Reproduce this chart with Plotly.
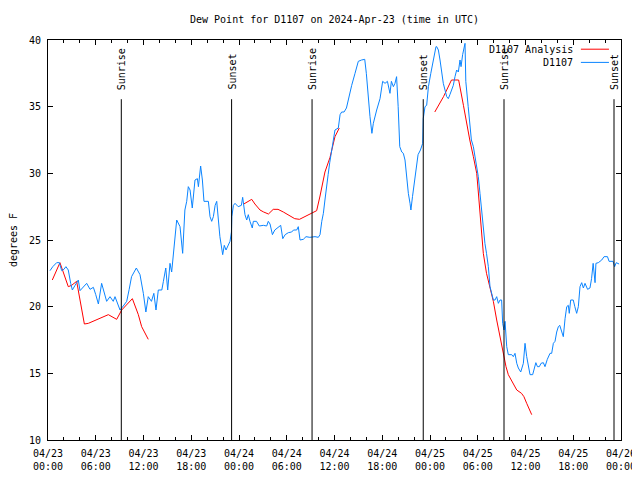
import pandas as pd
import plotly.graph_objects as go

START = pd.Timestamp("2024-04-23 00:00")

# Observed dew point (D1107), hours since 2024-04-23 00:00 UTC
obs_hours = [0.25, 0.6, 1.09, 1.42, 1.72, 2.0, 2.25, 2.55, 2.85, 3.06, 3.4, 3.81, 4.02, 4.45, 4.86, 5.28, 5.7, 6.0,
             6.33, 6.74, 7.16, 7.37, 7.79, 8.2, 8.42, 8.71, 9.05, 9.46, 9.89, 10.2, 10.5, 11.1, 11.56, 11.98, 12.3,
             12.6, 13.0, 13.3, 13.57, 13.86, 14.3, 14.5, 14.8, 15.04, 15.33, 15.54, 15.96, 16.17, 16.59, 16.92, 17.2,
             17.43, 17.63, 17.85, 18.13, 18.47, 18.77, 18.9, 19.18, 19.4, 19.6, 20.15, 20.36, 20.57, 20.78, 21.0,
             21.2, 21.4, 21.6, 21.95, 22.15, 22.37, 22.66, 22.87, 23.05, 23.1, 23.3, 23.5, 23.9, 24.3, 24.46, 24.6,
             24.75, 24.97, 25.17, 25.38, 25.67, 25.8, 26.2, 26.55, 27.06, 27.48, 27.68, 27.9, 28.2, 28.5, 28.94,
             29.24, 29.5, 29.8, 30.2, 30.62, 30.85, 31.25, 31.45, 31.67, 32.08, 32.42, 32.9, 33.55, 33.97, 34.18,
             34.4, 34.6, 34.8, 35.0, 35.2, 35.4, 35.64, 35.85, 36.06, 36.48, 36.7, 36.9, 37.2, 37.5, 37.7, 38.16,
             38.58, 38.99, 39.4, 39.8, 40.0, 40.25, 40.46, 40.7, 40.88, 41.3, 41.72, 42.05, 42.35, 42.65, 42.97,
             43.15, 43.4, 43.6, 43.8, 44.0, 44.2, 44.45, 44.65, 44.86, 45.07, 45.28, 45.49, 45.6, 45.8, 46.1, 46.3,
             46.5, 46.8, 47.08, 47.15, 47.37, 47.58, 47.8, 48.1, 48.4, 48.75, 48.84, 49.05, 49.26, 49.47, 49.67,
             50.1, 50.3, 50.5, 50.93, 51.14, 51.35, 51.56, 51.77, 51.9, 52.1, 52.4, 52.5, 52.8, 53.0, 53.2, 53.45,
             53.66, 53.87, 54.07, 54.28, 54.5, 54.7, 54.9, 55.1, 55.33, 55.54, 55.75, 55.96, 56.17, 56.38, 56.59,
             56.8, 57.0, 57.13, 57.3, 57.43, 57.64, 57.84, 58.27, 58.47, 58.68, 58.9, 59.1, 59.4, 59.73, 59.94,
             60.15, 60.36, 60.57, 60.9, 61.07, 61.3, 61.5, 61.74, 61.95, 62.24, 62.45, 62.74, 63.08, 63.29, 63.5,
             63.71, 63.92, 64.13, 64.3, 64.55, 64.75, 64.97, 65.18, 65.38, 65.5, 65.68, 66.0, 66.2, 66.43, 66.64,
             66.85, 67.06, 67.27, 67.48, 67.8, 68.1, 68.3, 68.5, 68.74, 68.85, 69.15, 69.58, 69.87, 70.3, 70.5,
             71.0, 71.2, 71.4, 71.76]
obs_values = [22.7, 23.0, 23.3, 23.3, 22.7, 22.8, 23.0, 22.75, 21.75, 21.25, 21.6, 22.0, 21.2, 21.5, 21.75, 21.3,
              21.45, 20.9, 20.2, 21.75, 20.9, 20.4, 20.75, 20.4, 20.75, 20.25, 19.75, 20.05, 20.4, 21.3, 22.25, 22.9,
              22.4, 21.0, 19.6, 20.75, 20.4, 21.0, 19.75, 21.25, 21.25, 21.9, 22.9, 21.25, 23.25, 22.6, 25.1, 26.5,
              26.0, 24.0, 27.25, 27.9, 29.0, 28.75, 27.4, 29.5, 29.6, 29.0, 30.55, 29.5, 27.9, 27.9, 26.75, 26.4,
              26.75, 27.6, 27.9, 26.75, 25.25, 23.9, 24.6, 24.25, 24.6, 24.9, 25.6, 26.75, 27.6, 27.75, 27.5, 27.6,
              28.2, 27.6, 26.9, 26.5, 26.9, 26.4, 25.9, 26.4, 26.4, 26.05, 26.1, 26.05, 26.4, 26.2, 25.4, 25.75, 26.0,
              26.1, 25.1, 25.4, 25.55, 25.6, 25.75, 25.75, 26.0, 25.0, 25.05, 25.25, 25.2, 25.25, 25.2, 25.4, 26.4,
              27.0, 28.0, 29.2, 29.9, 30.8, 31.75, 32.5, 33.25, 33.4, 34.4, 34.6, 34.6, 34.9, 35.5, 36.6, 37.5, 38.4,
              38.5, 38.55, 37.5, 35.5, 34.25, 33.0, 33.75, 34.75, 35.6, 36.9, 36.75, 36.9, 36.0, 36.9, 36.5, 36.75,
              37.25, 35.0, 32.0, 31.6, 31.5, 31.0, 29.5, 28.5, 27.75, 27.25, 28.25, 29.75, 30.75, 31.4, 31.75, 32.25,
              34.1, 35.0, 35.1, 36.5, 37.5, 38.5, 39.5, 39.5, 39.25, 38.5, 37.6, 36.75, 35.75, 35.6, 35.9, 36.6,
              37.25, 37.75, 37.6, 38.5, 38.0, 38.9, 39.75, 36.9, 35.0, 33.5, 32.5, 32.0, 31.25, 30.75, 29.75, 28.5,
              27.1, 25.9, 24.75, 24.0, 23.0, 21.5, 21.0, 20.5, 20.5, 20.75, 20.25, 20.5, 20.5, 18.75, 18.25, 18.9,
              17.0, 16.4, 16.4, 16.25, 16.5, 15.75, 15.4, 15.1, 15.75, 17.25, 16.25, 15.5, 14.9, 14.9, 15.25, 15.8,
              15.5, 15.5, 15.75, 15.8, 15.5, 16.05, 16.5, 16.5, 17.25, 17.4, 18.1, 18.5, 18.6, 18.1, 17.75, 19.1,
              20.0, 20.1, 19.5, 20.5, 20.5, 20.0, 19.5, 20.0, 21.5, 21.8, 21.4, 21.75, 21.3, 21.4, 22.1, 23.25, 21.8,
              23.25, 23.3, 23.5, 23.75, 23.75, 23.4, 23.4, 23.0, 23.3, 23.2]

# Analysis dew point (None = gap)
ana_hours = [0.54, 1.5, 2.55, 2.97, 3.6, 4.57, 5.07, 6.33, 7.58, 8.63, 9.26, 10.6, 11.35, 11.77, 12.6,
             18.0,
             24.6, 25.6, 26.0, 26.64, 27.1, 27.7, 28.3, 28.9, 29.57, 30.4, 31.0, 31.6, 32.3, 33.1, 33.76, 34.18,
             34.8, 35.44, 36.06, 36.6,
             42.0,
             48.6, 49.7, 50.7, 51.6, 52.2, 52.6, 53.0, 53.45, 53.87, 54.07, 54.28, 54.5, 54.7, 55.1, 55.54, 55.96,
             56.38, 56.8, 57.2, 57.55, 57.84, 58.27, 58.9, 59.5, 59.8, 60.15, 60.78]
ana_values = [22.0, 23.3, 21.5, 21.6, 21.9, 18.7, 18.75, 19.1, 19.4, 19.05, 19.75, 20.6, 19.4, 18.5, 17.55,
              None,
              27.7, 28.05, 27.7, 27.25, 27.1, 26.95, 27.3, 27.3, 27.1, 26.8, 26.6, 26.55, 26.75, 26.95, 27.2, 28.3,
              30.1, 31.2, 32.75, 33.4,
              None,
              34.6, 35.75, 37.0, 37.0, 35.1, 33.75, 32.5, 31.25, 30.0, 28.6, 27.0, 25.5, 24.0, 22.5, 21.4, 20.4,
              19.0, 17.75, 16.5, 15.5, 14.9, 14.4, 13.75, 13.5, 13.25, 12.75, 11.9]

# Sunrise / sunset markers
event_labels = ["Sunrise", "Sunset", "Sunrise", "Sunset", "Sunrise", "Sunset"]
event_hours = [9.21, 23.07, 33.18, 47.15, 57.3, 71.12]

series_names = ["D1107 Analysis", "D1107"]
series_colors = ["#ff0000", "#0a84ff"]


def to_time(hours):
    return [START + pd.Timedelta(hours=h) for h in hours]


FONT = "DejaVu Sans Mono"

fig = go.Figure()
fig.add_trace(go.Scatter(x=to_time(ana_hours), y=ana_values, mode="lines", name=series_names[0],
                         line=dict(color=series_colors[0], width=1), connectgaps=False, showlegend=False))
fig.add_trace(go.Scatter(x=to_time(obs_hours), y=obs_values, mode="lines", name=series_names[1],
                         line=dict(color=series_colors[1], width=1), showlegend=False))

# event lines + rotated labels
for lab, h in zip(event_labels, event_hours):
    t = START + pd.Timedelta(hours=h)
    fig.add_shape(type="line", xref="x", yref="paper", x0=t, x1=t, y0=0, y1=0.852,
                  line=dict(color="black", width=1))
    fig.add_annotation(x=t, xref="x", y=0.87, yref="paper", text=lab, textangle=-90,
                       showarrow=False, xanchor="center", yanchor="bottom",
                       font=dict(family=FONT, size=10, color="black"))

# gnuplot-style legend (text right-aligned, sample to the right)
legend_y = [0.977, 0.944]
for name, col, yy in zip(series_names, series_colors, legend_y):
    fig.add_annotation(x=0.9197, xref="paper", y=yy, yref="paper", text=name, showarrow=False,
                       xanchor="right", yanchor="middle", font=dict(family=FONT, size=10, color="black"))
    fig.add_shape(type="line", xref="paper", yref="paper", x0=0.930, x1=0.979, y0=yy, y1=yy,
                  line=dict(color=col, width=1))

# page body has an 8px margin; figure is sized/offset so the plot frame lands at x 48..621, y 40..440
fig.update_layout(
    width=632, height=472,
    margin=dict(l=40, r=19, t=32, b=40, autoexpand=False),
    paper_bgcolor="white", plot_bgcolor="white",
    font=dict(family=FONT, size=10, color="black"),
    title=dict(text="Dew Point for D1107 on 2024-Apr-23 (time in UTC)", x=0.5, xref="paper",
               y=1 - 11 / 472, yanchor="middle", font=dict(family=FONT, size=10, color="black")),
    showlegend=False,
)
fig.update_xaxes(
    type="date", automargin=False,
    range=[START, START + pd.Timedelta(hours=72)],
    tick0=START, dtick=6 * 3600 * 1000,
    tickformat="%m/%d<br>%H:%M",
    ticks="inside", ticklen=5, tickcolor="black", ticklabelstandoff=4,
    minor=dict(dtick=2 * 3600 * 1000, ticks="inside", ticklen=3, tickcolor="black"),
    showline=True, linecolor="black", linewidth=1, mirror="allticks",
    showgrid=False, zeroline=False,
    tickfont=dict(family=FONT, size=10, color="black"),
)
fig.update_yaxes(
    range=[10, 40], dtick=5, tick0=10, automargin=False,
    ticks="inside", ticklen=5, tickcolor="black", ticklabelstandoff=4,
    showline=True, linecolor="black", linewidth=1, mirror="allticks",
    showgrid=False, zeroline=False,
    tickfont=dict(family=FONT, size=10, color="black"),
    title=dict(text="degrees F", standoff=18, font=dict(family=FONT, size=10, color="black")),
)

fig.write_html("out.html")
